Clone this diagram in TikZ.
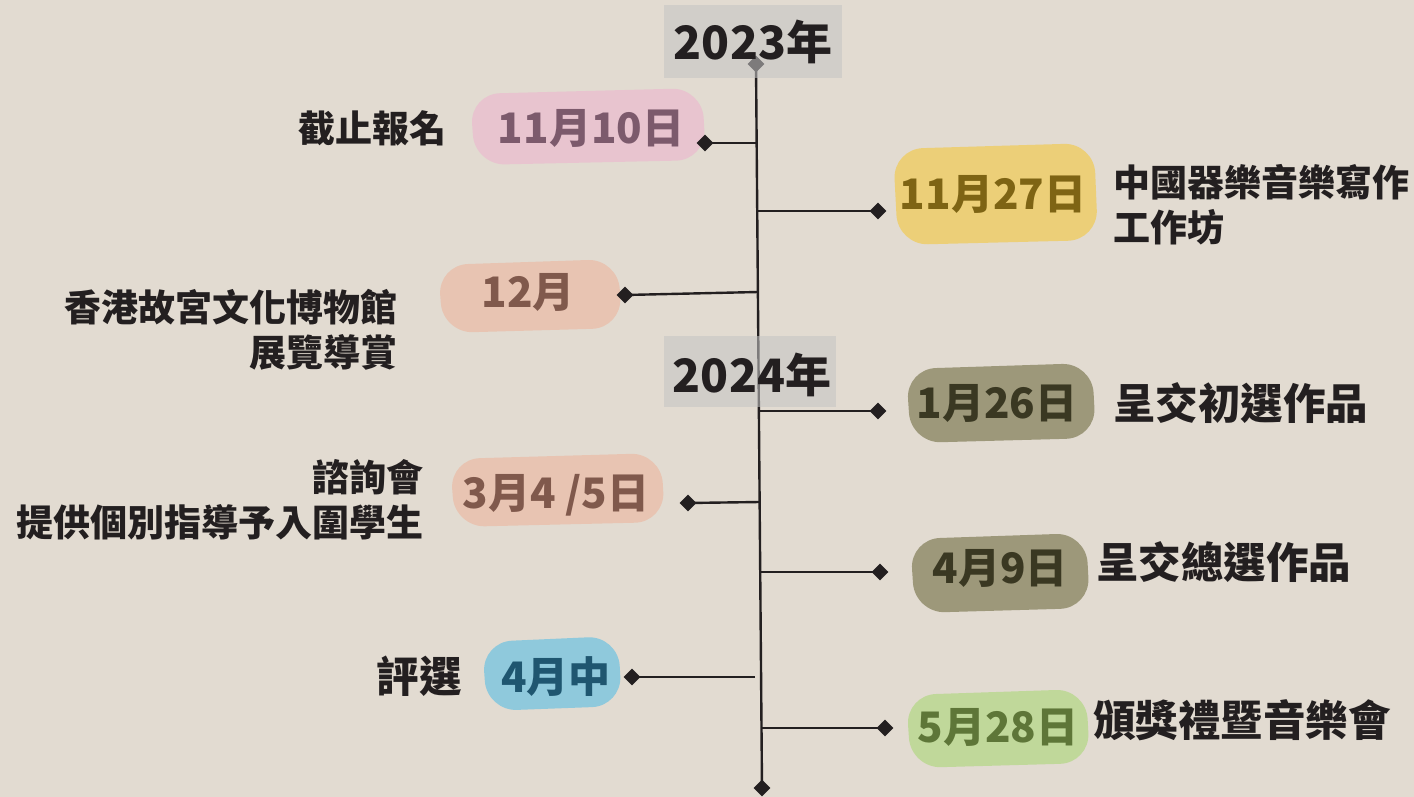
\documentclass[tikz,border=0pt]{standalone}
\usepackage{fontspec}
\setmainfont{Noto Sans CJK TC}
\usetikzlibrary{shapes.geometric,calc}
\definecolor{bg}{RGB}{226,219,209}
\definecolor{ink}{RGB}{35,31,32}
\definecolor{boxgray}{RGB}{196,196,196}
\definecolor{pinkc}{RGB}{232,196,207}
\definecolor{pinkt}{RGB}{124,90,108}
\definecolor{yellc}{RGB}{236,207,120}
\definecolor{yellt}{RGB}{126,100,20}
\definecolor{salmc}{RGB}{232,196,178}
\definecolor{salmt}{RGB}{128,89,76}
\definecolor{olivc}{RGB}{157,152,122}
\definecolor{olivt}{RGB}{58,56,34}
\definecolor{bluec}{RGB}{143,201,220}
\definecolor{bluet}{RGB}{31,86,112}
\definecolor{grnc}{RGB}{192,216,154}
\definecolor{grnt}{RGB}{94,118,56}
\newcommand\blobfill[5]{\fill[#5, rounded corners=30] (#1,#2+6) -- (#3-4,#2) -- (#3,#4-5) -- (#1+5,#4) -- cycle;}
\begin{document}
\begin{tikzpicture}[x=1pt,y=-1pt,
  conn/.style={line width=2.4pt, draw=ink},
  dia/.style={diamond, fill=ink, inner sep=0pt, minimum size=17pt},
  lbl/.style={font=\fontsize{37}{45}\selectfont\bfseries, text=ink, inner sep=0pt},
  lblbig/.style={font=\fontsize{42.5}{45}\selectfont\bfseries, text=ink, inner sep=0pt},
  datetxt/.style={font=\fontsize{42}{48}\selectfont\bfseries, inner sep=0pt},
  yearbox/.style={fill=boxgray, fill opacity=0.56},
  yeartxt/.style={font=\fontsize{46}{50}\selectfont\bfseries, text=ink, inner sep=0pt}]
\fill[bg] (0,0) rectangle (1414,797);
\useasboundingbox (0,0) rectangle (1414,797);

% main axis
\node[dia] (top) at (756,64) {};
\node[dia] (bot) at (762,788) {};
\draw[conn] (top.center) -- (bot.center);

% junctions
\coordinate (j1) at (756.6,143);
\coordinate (j2) at (757.2,211);
\coordinate (j3) at (757.9,292);
\coordinate (j4) at (758.9,411);
\coordinate (j5) at (759.6,502);
\coordinate (j6) at (760.2,572);
\coordinate (j7) at (755,677);
\coordinate (j8) at (761.5,728);

% blobs
\blobfill{470}{88}{706}{165}{pinkc}
\blobfill{893}{143}{1098}{245}{yellc}
\blobfill{438}{259}{622}{333}{salmc}
\blobfill{906}{363}{1096}{443}{olivc}
\blobfill{450}{453}{665}{527}{salmc}
\blobfill{910}{533}{1090}{613}{olivc}
\blobfill{482}{636}{622}{711}{bluec}
\blobfill{906}{689}{1090}{768}{grnc}

% diamonds
\node[dia] (e1) at (705,143) {};
\node[dia] (e2) at (878,211) {};
\node[dia] (e3) at (625,295) {};
\node[dia] (e4) at (878,411) {};
\node[dia] (e5) at (688,503) {};
\node[dia] (e6) at (880,572) {};
\node[dia] (e7) at (632,677) {};
\node[dia] (e8) at (885,728) {};

\draw[conn] (j1) -- (e1.center);
\draw[conn] (j2) -- (e2.center);
\draw[conn] (j3) -- (e3.center);
\draw[conn] (j4) -- (e4.center);
\draw[conn] (j5) -- (e5.center);
\draw[conn] (j6) -- (e6.center);
\draw[conn] (j7) -- (e7.center);
\draw[conn] (j8) -- (e8.center);

% year boxes
\fill[yearbox] (664,5) rectangle (842,78);
\fill[yearbox] (664,336) rectangle (836,407);
\node[yeartxt] (y23) at (753,42) {2023年};
\node[yeartxt] (y24) at (752,375) {2024年};

% dates
\node[datetxt, text=pinkt] (d1) at (591,128) {11月10日};
\node[datetxt, text=yellt] (d2) at (993,194) {11月27日};
\node[datetxt, text=salmt] (d3) at (528,292) {12月};
\node[datetxt, text=olivt] (d4) at (997,403) {1月26日};
\node[datetxt, text=salmt] (d5) at (556,495) {3月4 /5日};
\node[datetxt, text=olivt] (d6) at (1000,568) {4月9日};
\node[datetxt, text=bluet] (d7) at (556,677) {4月中};
\node[datetxt, text=grnt] (d8) at (998,727) {5月28日};

% labels
\node[lbl, anchor=east] (l1) at (447,128) {截止報名};
\node[lbl, anchor=west, align=left] (l2) at (1113,205) {中國器樂音樂寫作\\工作坊};
\node[lbl, anchor=east, align=right] (l3) at (398,330) {香港故宮文化博物館\\展覽導賞};
\node[lblbig, anchor=west] (l4) at (1113,403) {呈交初選作品};
\node[lbl, anchor=east, align=right] (l5) at (424,500) {諮詢會\\提供個別指導予入圍學生};
\node[lblbig, anchor=west] (l6) at (1096,562) {呈交總選作品};
\node[lblbig, anchor=east] (l7) at (462,676) {評選};
\node[lblbig, anchor=west] (l8) at (1093,720) {頒獎禮暨音樂會};
\end{tikzpicture}
\end{document}
